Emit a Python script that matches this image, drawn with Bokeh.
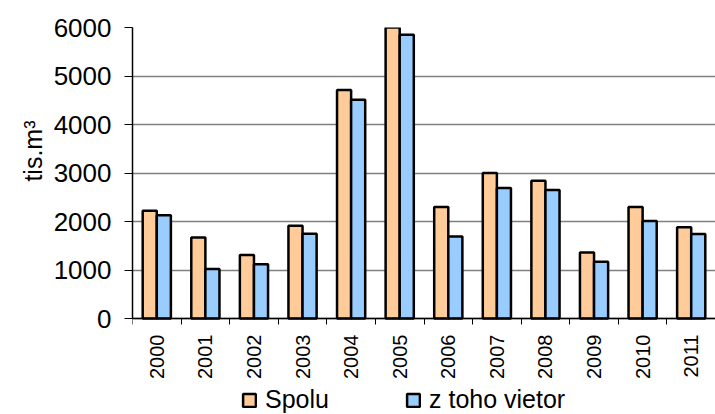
import numpy as np
from bokeh.plotting import figure
from bokeh.models import (ColumnDataSource, Range1d, FixedTicker, Legend, LegendItem, Title)
from bokeh.transform import dodge
from bokeh.embed import file_html
from bokeh.resources import INLINE

years = ["2000", "2001", "2002", "2003", "2004", "2005",
         "2006", "2007", "2008", "2009", "2010", "2011"]
spolu = [2220, 1670, 1310, 1910, 4710, 6000, 2300, 3000, 2840, 1360, 2300, 1880]
vietor = [2130, 1020, 1120, 1750, 4510, 5850, 1690, 2690, 2650, 1170, 2010, 1740]
y_ticks = [0, 1000, 2000, 3000, 4000, 5000, 6000]

xc = [i + 0.5 for i in range(len(years))]
src = ColumnDataSource(dict(x=xc, spolu=spolu, vietor=vietor))

FONT = "Liberation Sans"

# frame spans down to the bottom of the picture; the x axis sits at y=0
p = figure(output_backend="svg", toolbar_location=None,
           frame_width=583, frame_height=387,
           min_border_left=132, min_border_right=0, min_border_top=27,
           min_border_bottom=0,
           x_range=Range1d(0, len(years)), y_range=Range1d(-1979, 6000))
p.outline_line_color = None
p.background_fill_color = "white"
p.border_fill_color = "white"

r1 = p.vbar(x=dodge("x", -0.145, range=p.x_range), top="spolu", width=0.29,
            source=src, fill_color="#FFCC99", line_color="black", line_width=2.5)
r2 = p.vbar(x=dodge("x", 0.145, range=p.x_range), top="vietor", width=0.29,
            source=src, fill_color="#99CCFF", line_color="black", line_width=2.5)

# x axis: labels at centers, ticks at category boundaries
xt = FixedTicker(ticks=xc, minor_ticks=list(range(len(years) + 1)))
p.xaxis.fixed_location = 0
p.xaxis.ticker = xt
p.xaxis.major_label_overrides = {float(c): y for c, y in zip(xc, years)}
p.xaxis.major_label_orientation = np.pi / 2
p.xaxis.major_tick_line_color = None
p.xaxis.minor_tick_line_color = "black"
p.xaxis.minor_tick_out = 6
p.xaxis.minor_tick_in = 0
p.xaxis.major_label_standoff = 10
p.xaxis.major_label_text_font = FONT
p.xaxis.major_label_text_font_size = "20px"
p.xaxis.major_label_text_color = "black"
p.xaxis.axis_line_color = "black"
p.xaxis.axis_line_width = 1.5

p.yaxis.ticker = FixedTicker(ticks=y_ticks)
p.yaxis.bounds = (0, 6000)
p.yaxis.minor_tick_line_color = None
p.yaxis.major_tick_out = 8
p.yaxis.major_tick_in = 0
p.yaxis.major_tick_line_color = "black"
p.yaxis.major_label_standoff = 13
p.yaxis.major_label_text_font = FONT
p.yaxis.major_label_text_font_size = "26px"
p.yaxis.major_label_text_color = "black"
p.yaxis.axis_line_color = "black"
p.yaxis.axis_line_width = 1.5

# y axis title, placed as a left-side title so it can be shifted upwards
ytitle = Title(text="tis.m³", align="right", offset=93,
               text_font=FONT, text_font_size="25px",
               text_font_style="normal", text_color="black", standoff=8)
p.add_layout(ytitle, "left")

p.xgrid.grid_line_color = None
p.ygrid.grid_line_color = "#808080"
p.ygrid.grid_line_width = 1.3

legend = Legend(items=[LegendItem(label="Spolu", renderers=[r1]),
                       LegendItem(label="z toho vietor", renderers=[r2])],
                orientation="horizontal", location=(109, 0),
                glyph_width=16, glyph_height=16, label_standoff=8,
                label_width=140, spacing=0, padding=0, margin=0,
                border_line_color=None, background_fill_alpha=0,
                label_text_font=FONT, label_text_font_size="25px",
                label_text_color="black")
p.add_layout(legend, "center")

open("out.html", "w").write(file_html(p, INLINE))
